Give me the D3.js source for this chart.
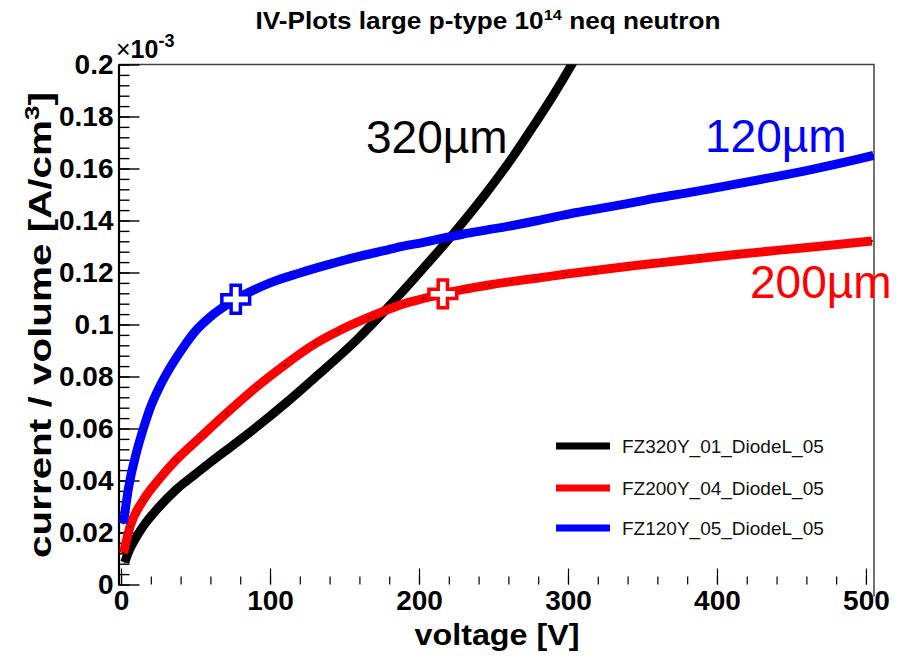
<!DOCTYPE html>
<html>
<head>
<meta charset="utf-8">
<script src="https://cdn.jsdelivr.net/npm/d3@7"></script>
<style>
  html, body { margin: 0; padding: 0; background: #fff; }
  svg { display: block; }
</style>
</head>
<body>
<svg id="chart" width="903" height="656"></svg>
<script>
// IV curves of irradiated p-type diodes, current per volume in units of 1e-3 A/cm^3
const seriesNames = ["FZ320Y_01_DiodeL_05", "FZ200Y_04_DiodeL_05", "FZ120Y_05_DiodeL_05"];
const seriesColors = ["#000000", "#ff0000", "#0000ff"];
const thicknessLabels = ["320\u00b5m", "200\u00b5m", "120\u00b5m"];

const v320 = [2.5, 5, 10, 15, 25, 37, 50, 60, 75, 93, 110, 130, 158, 179, 198, 222, 245, 263, 277, 290, 302, 306];
const i320 = [0.0085, 0.0125, 0.0180, 0.0225, 0.0295, 0.0365, 0.0425, 0.0470, 0.0535, 0.0615, 0.0695, 0.0795, 0.0940, 0.1065, 0.1185, 0.1342, 0.1505, 0.1645, 0.1765, 0.1880, 0.1995, 0.2035];

const v200 = [1.6, 6, 15, 26, 37, 53, 71, 91, 110, 130, 146, 166, 178, 190, 203, 216, 230, 247, 262, 279, 299, 318, 341, 363, 388, 414, 442, 471, 504];
const i200 = [0.0120, 0.0222, 0.0325, 0.0408, 0.0479, 0.0565, 0.0660, 0.0760, 0.0845, 0.0925, 0.0975, 0.1027, 0.1055, 0.1080, 0.1100, 0.1118, 0.1135, 0.1152, 0.1165, 0.1178, 0.1194, 0.1208, 0.1224, 0.1238, 0.1254, 0.1270, 0.1286, 0.1302, 0.1321];

const v120 = [1.6, 5, 10, 15, 20, 25, 30, 40, 50, 60, 70, 77, 90, 100, 120, 139, 157, 179, 191, 203, 217, 230, 245, 262, 279, 297, 318, 337, 359, 384, 408, 435, 464, 494, 505];
const i120 = [0.0235, 0.0370, 0.0500, 0.0600, 0.0685, 0.0750, 0.0805, 0.0897, 0.0975, 0.1030, 0.1072, 0.1097, 0.1135, 0.1160, 0.1198, 0.1230, 0.1258, 0.1287, 0.1303, 0.1316, 0.1333, 0.1348, 0.1363, 0.1380, 0.1399, 0.1421, 0.1443, 0.1462, 0.1486, 0.1510, 0.1535, 0.1564, 0.1597, 0.1635, 0.1650];

// highlighted operating points (voltage, current) on the 120 um and 200 um curves
const markV = [77, 216];
const markI = [0.1097, 0.1118];
const markColors = ["#0000ff", "#ff0000"];

const xMajorTicks = [0, 100, 200, 300, 400, 500];
const xMinorTicks = d3.range(0, 501, 20);
const yMajorTicks = [0, 0.02, 0.04, 0.06, 0.08, 0.1, 0.12, 0.14, 0.16, 0.18, 0.2];
const yTickLabels = ["0", "0.02", "0.04", "0.06", "0.08", "0.1", "0.12", "0.14", "0.16", "0.18", "0.2"];
const yMinorTicks = d3.range(0, 51).map(k => k * 0.004);

const titleText = "IV-Plots large p-type 10";
const xTitle = "voltage [V]";
const yTitle = "current / volume [A/cm";

const svg = d3.select("#chart");
const frame = { left: 118.5, right: 874, top: 64.5, bottom: 584.5 };

const x = d3.scaleLinear().domain([-1.7, 505.4]).range([frame.left, frame.right]);
const y = d3.scaleLinear().domain([0, 0.2]).range([frame.bottom, frame.top]);

const boldFont = "'Liberation Sans', Arial, Helvetica, sans-serif";

// clip region for the curves
svg.append("defs").append("clipPath").attr("id", "plotclip")
  .append("rect")
  .attr("x", frame.left).attr("y", frame.top)
  .attr("width", frame.right - frame.left).attr("height", frame.bottom - frame.top);

// frame (top and right)
svg.append("path")
  .attr("d", `M${frame.left},${frame.top}H${frame.right}V${frame.bottom + 12}`)
  .attr("fill", "none").attr("stroke", "#444").attr("stroke-width", 1.5);

// x axis: ticks pointing up into the frame
const xMinorAxis = d3.axisBottom(x).tickValues(xMinorTicks).tickSizeInner(-8).tickSizeOuter(0).tickFormat("");
const xAxis = d3.axisBottom(x).tickValues(xMajorTicks).tickSizeInner(-16).tickSizeOuter(0).tickPadding(6).tickFormat(d => String(d));
const gxm = svg.append("g").attr("transform", `translate(0,${frame.bottom})`).call(xMinorAxis);
gxm.select(".domain").remove();
gxm.selectAll(".tick line").attr("stroke", "#000").attr("stroke-width", 1.2);
const gx = svg.append("g").attr("transform", `translate(0,${frame.bottom})`).call(xAxis);
gx.select(".domain").remove();
gx.selectAll(".tick line").attr("stroke", "#000").attr("stroke-width", 1.2);
gx.selectAll(".tick text").attr("font-family", boldFont).attr("font-weight", "bold")
  .attr("font-size", 28).attr("fill", "#000");

// y axis: ticks pointing right into the frame
const yMinorAxis = d3.axisLeft(y).tickValues(yMinorTicks).tickSizeInner(-11).tickSizeOuter(0).tickFormat("");
const yAxis = d3.axisLeft(y).tickValues(yMajorTicks).tickSizeInner(-21).tickSizeOuter(0).tickPadding(5)
  .tickFormat((d, i) => yTickLabels[i]);
const gym = svg.append("g").attr("transform", `translate(${frame.left},0)`).call(yMinorAxis);
gym.select(".domain").remove();
gym.selectAll(".tick line").attr("stroke", "#000").attr("stroke-width", 1.4);
const gy = svg.append("g").attr("transform", `translate(${frame.left},0)`).call(yAxis);
gy.select(".domain").attr("stroke", "#000").attr("stroke-width", 2.2);
gy.selectAll(".tick line").attr("stroke", "#000").attr("stroke-width", 1.4);
gy.selectAll(".tick text").attr("font-family", boldFont).attr("font-weight", "bold")
  .attr("font-size", 28).attr("fill", "#000");

// exponent label on the y axis
const expo = svg.append("text").attr("x", 116).attr("y", 58)
  .attr("font-family", boldFont).attr("font-weight", "bold").attr("font-size", 25);
expo.append("tspan").attr("font-weight", "normal").text("\u00d7");
expo.append("tspan").text("10");
expo.append("tspan").attr("dy", -11).attr("font-size", 18).text("-3");

// curves
const line = d3.line().x(d => x(d[0])).y(d => y(d[1])).curve(d3.curveMonotoneX);
const allSeries = [d3.zip(v320, i320), d3.zip(v200, i200), d3.zip(v120, i120)];
const curves = svg.append("g").attr("clip-path", "url(#plotclip)");
allSeries.forEach((pts, k) => {
  curves.append("path").datum(pts)
    .attr("d", line)
    .attr("fill", "none")
    .attr("stroke", seriesColors[k])
    .attr("stroke-width", 9)
    .attr("stroke-linejoin", "round");
  curves.append("g").selectAll("rect").data(pts).join("rect")
    .attr("x", d => x(d[0]) - 1).attr("y", d => y(d[1]) - 1)
    .attr("width", 2).attr("height", 2)
    .attr("fill", "#000").attr("opacity", 0.75);
});

// cross markers
const cross = d3.symbol().type(d3.symbolCross).size(430);
markV.forEach((v, k) => {
  svg.append("path")
    .attr("transform", `translate(${x(v)},${y(markI[k])})`)
    .attr("d", cross())
    .attr("fill", "#fff")
    .attr("stroke", markColors[k])
    .attr("stroke-width", 3.5);
});

// legend
const legendY = [446, 488, 528];
const legend = svg.append("g");
seriesNames.forEach((name, k) => {
  legend.append("line")
    .attr("x1", 556).attr("x2", 610).attr("y1", legendY[k]).attr("y2", legendY[k])
    .attr("stroke", seriesColors[k]).attr("stroke-width", 7);
  legend.append("text")
    .attr("x", 622).attr("y", legendY[k] + 7)
    .attr("font-family", "'Liberation Sans', Arial, sans-serif")
    .attr("font-size", 19).attr("fill", "#111")
    .text(name);
});

// thickness annotations
const annoPos = [[366, 153], [750, 298], [705, 152]];
thicknessLabels.forEach((t, k) => {
  svg.append("text")
    .attr("x", annoPos[k][0]).attr("y", annoPos[k][1])
    .attr("font-family", "'Liberation Sans', Arial, sans-serif")
    .attr("font-size", 46).attr("fill", seriesColors[k])
    .text(t);
});

// title
const title = svg.append("text").attr("x", 488).attr("y", 29).attr("text-anchor", "middle")
  .attr("font-family", boldFont).attr("font-weight", "bold").attr("font-size", 24)
  .attr("textLength", 465).attr("lengthAdjust", "spacingAndGlyphs");
title.append("tspan").text(titleText);
title.append("tspan").attr("dy", -9).attr("font-size", 15).text("14");
title.append("tspan").attr("dy", 9).text(" neq neutron");

// axis titles
svg.append("text").attr("x", 497).attr("y", 645).attr("text-anchor", "middle")
  .attr("font-family", boldFont).attr("font-weight", "bold").attr("font-size", 30)
  .attr("textLength", 165).attr("lengthAdjust", "spacingAndGlyphs")
  .text(xTitle);

const yt = svg.append("text")
  .attr("transform", "translate(51,325) rotate(-90)")
  .attr("text-anchor", "middle")
  .attr("font-family", boldFont).attr("font-weight", "bold").attr("font-size", 31)
  .attr("textLength", 466).attr("lengthAdjust", "spacingAndGlyphs");
yt.append("tspan").text(yTitle);
yt.append("tspan").attr("dy", -12).attr("font-size", 20).text("3");
yt.append("tspan").attr("dy", 12).text("]");
</script>
</body>
</html>
